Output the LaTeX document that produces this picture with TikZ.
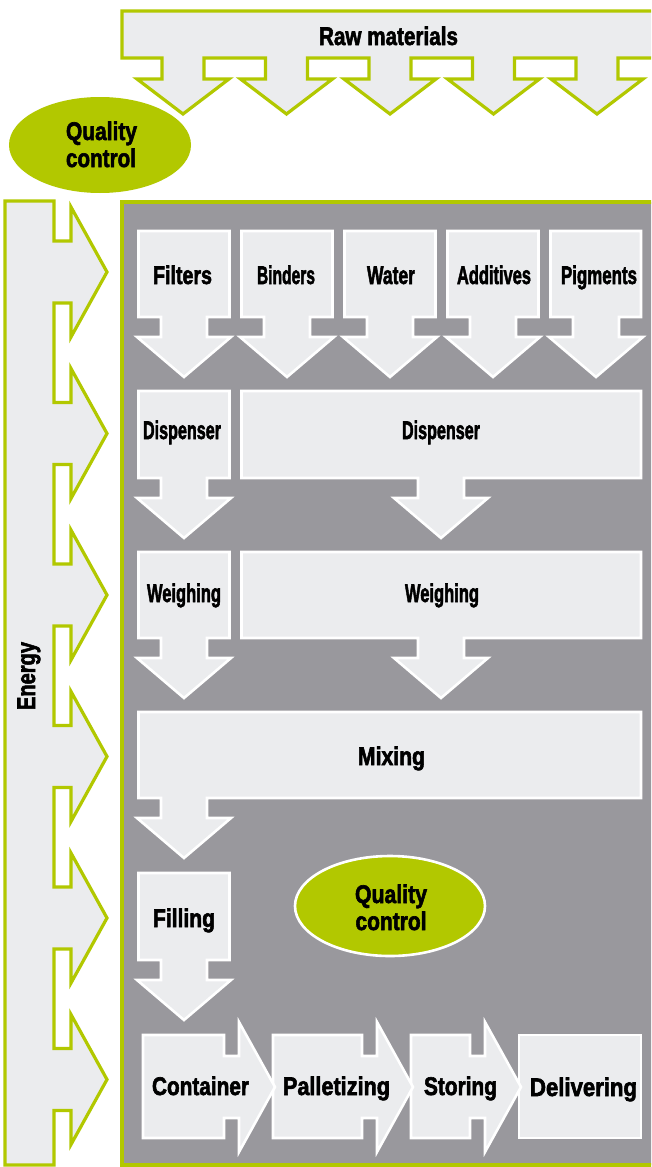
\documentclass[tikz,border=0pt]{standalone}
\usepackage{fontspec}
\setmainfont{Liberation Sans}
\newfontfamily\lblfont{Liberation Sans}[FakeBold=2.5]
\usetikzlibrary{shapes.geometric}
\definecolor{qgreen}{RGB}{178,200,0}
\definecolor{bggray}{RGB}{153,152,157}
\definecolor{boxfill}{RGB}{235,236,238}
\newcommand\fitw[2]{\resizebox{#1pt}{\height}{#2}}
\newcommand\mydownbox[5]{%
  \draw[whiteshape] (#1,#3) -- (#2,#3) -- (#2,#4) -- (#5+23,#4) -- (#5+23,#4+20) -- (#5+47,#4+20) -- (#5,#4+60) -- (#5-47,#4+20) -- (#5-23,#4+20) -- (#5-23,#4) -- (#1,#4) -- cycle;}
\newcommand\myrightbox[2]{%
  \draw[whiteshape] (#1,1035) -- (#2,1035) -- (#2,1056) -- (#2+15,1056) -- (#2+15,1022) -- (#2+51,1087) -- (#2+15,1152) -- (#2+15,1118) -- (#2,1118) -- (#2,1138) -- (#1,1138) -- cycle;}
\begin{document}
\begin{tikzpicture}[x=1pt,y=-1pt,
  greenshape/.style={draw=qgreen, line width=3.2pt, fill=boxfill, line join=miter},
  whiteshape/.style={draw=white, line width=2.6pt, fill=boxfill, line join=miter},
  lbl/.style={font=\lblfont\bfseries\fontsize{25.5}{28}\selectfont, inner sep=0pt, anchor=base},
  qcell/.style={ellipse, fill=qgreen, inner sep=0pt}]
\useasboundingbox (0,0) rectangle (651,1167);
\clip (0,0) rectangle (651,1167);
\fill[white] (0,0) rectangle (651,1167);

% Raw materials
\draw[greenshape] (122,11) -- (680,11) -- (680,58)
  \foreach \c in {597,493.5,390,286.5,183} { -- (\c+21,58) -- (\c+21,79) -- (\c+46,79) -- (\c,114) -- (\c-46,79) -- (\c-21,79) -- (\c-21,58) } -- (122,58) -- cycle;
\node[lbl] (raw) at (388.5,45) {\fitw{139}{Raw materials}};

% Quality control (top)
\node[qcell, minimum width=182pt, minimum height=96pt] (qc1) at (100,145) {};
\node[lbl] (qc1a) at (101.5,140) {\fitw{71}{Quality}};
\node[lbl] (qc1b) at (101,167) {\fitw{70}{control}};

% Energy bar
\draw[greenshape] (5,201) -- (54,201)
  \foreach \t in {272,433.5,595,756.5,918,1079.5} { -- (54,\t-31) -- (71,\t-31) -- (71,\t-65) -- (107,\t) -- (71,\t+65) -- (71,\t+31) -- (54,\t+31) } -- (54,1165) -- (5,1165) -- cycle;
\node[lbl, rotate=90] (energy) at (35,676) {\fitw{68}{Energy}};

% Main gray area
\draw[draw=qgreen, line width=3.2pt, fill=bggray] (122,202) rectangle (690,1165);

% Row 1: ingredients
\mydownbox{138.5}{229.5}{231}{317}{184}
\mydownbox{241.5}{332.5}{231}{317}{287}
\mydownbox{344.5}{435.5}{231}{317}{390}
\mydownbox{447.5}{538.5}{231}{317}{493}
\mydownbox{550.5}{641}{231}{317}{596}
\node[lbl] (filters) at (182.5,284) {\fitw{59}{Filters}};
\node[lbl] (binders) at (286,284) {\fitw{58}{Binders}};
\node[lbl] (water) at (391,284) {\fitw{48}{Water}};
\node[lbl] (additives) at (494,284) {\fitw{74}{Additives}};
\node[lbl] (pigments) at (599,284) {\fitw{76}{Pigments}};

% Row 2: dispensers
\mydownbox{138.5}{229.5}{391}{478}{184}
\mydownbox{241.5}{641}{391}{478}{441}
\node[lbl] (disp1) at (182,439) {\fitw{78}{Dispenser}};
\node[lbl] (disp2) at (441,439) {\fitw{78}{Dispenser}};

% Row 3: weighing
\mydownbox{138.5}{229.5}{552}{638}{184}
\mydownbox{241.5}{641}{552}{638}{441}
\node[lbl] (weigh1) at (184,602) {\fitw{74}{Weighing}};
\node[lbl] (weigh2) at (442,602) {\fitw{74}{Weighing}};

% Row 4: mixing
\mydownbox{138.5}{641}{712}{798}{184}
\node[lbl] (mixing) at (391.5,765) {\fitw{67}{Mixing}};

% Row 5: filling
\mydownbox{138.5}{229.5}{873}{960}{184}
\node[lbl] (filling) at (184,927) {\fitw{62}{Filling}};

% Quality control (inner)
\node[qcell, draw=white, line width=2.6pt, minimum width=190pt, minimum height=100pt] (qc2) at (390,906) {};
\node[lbl] (qc2a) at (391,903) {\fitw{72}{Quality}};
\node[lbl] (qc2b) at (391,930) {\fitw{71}{control}};

% Row 6: final steps
\draw[whiteshape] (519,1035) rectangle (641,1138);
\myrightbox{411}{470}
\myrightbox{273}{362}
\myrightbox{143}{224}
\node[lbl] (container) at (200.5,1095) {\fitw{97}{Container}};
\node[lbl] (pallet) at (336.5,1095) {\fitw{107}{Palletizing}};
\node[lbl] (storing) at (460.5,1095) {\fitw{73}{Storing}};
\node[lbl] (deliver) at (583.5,1096) {\fitw{107}{Delivering}};
\end{tikzpicture}
\end{document}
